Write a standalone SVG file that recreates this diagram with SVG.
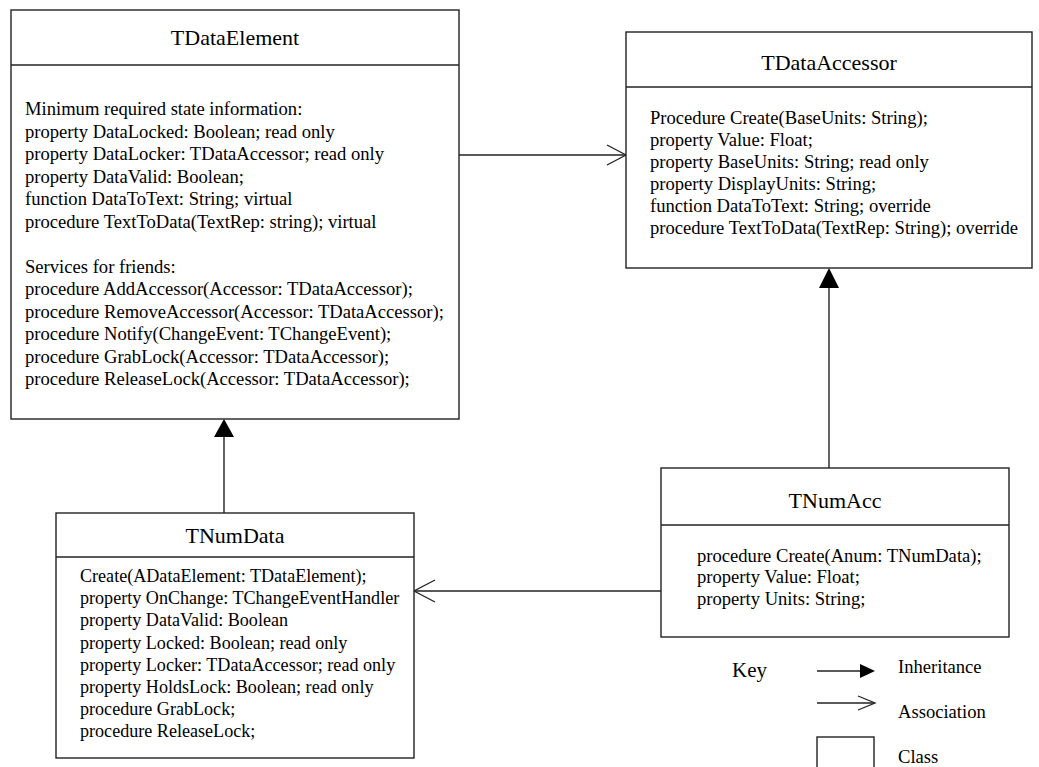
<svg xmlns="http://www.w3.org/2000/svg" width="1039" height="767" viewBox="0 0 1039 767">
<style>
  .box { fill: #ffffff; stroke: #222222; stroke-width: 1.4; }
  .div { stroke: #222222; stroke-width: 1.4; }
  .title { font-family: "Liberation Serif", "Times New Roman", serif; font-size: 22px; fill: #000; text-anchor: middle; }
  .body { font-family: "Liberation Serif", "Times New Roman", serif; font-size: 18.6px; fill: #000; }
  .small { font-size: 18.1px; }
  .conn { stroke: #222222; stroke-width: 1.4; fill: none; }
  .open { stroke: #222222; stroke-width: 1.3; fill: none; }
  .solid { fill: #000000; stroke: none; }
</style>
<rect width="1039" height="767" fill="#ffffff"/>

<g id="connectors">
  <!-- association TDataElement -> TDataAccessor -->
  <line class="conn" x1="459" y1="155" x2="626" y2="155"/>
  <polyline class="open" points="607,145 626,155 607,165"/>
  <!-- inheritance TNumAcc -> TDataAccessor -->
  <line class="conn" x1="829" y1="468" x2="829" y2="286"/>
  <polygon class="solid" points="829,268 819,288 839,288"/>
  <!-- inheritance TNumData -> TDataElement -->
  <line class="conn" x1="224" y1="513" x2="224" y2="436"/>
  <polygon class="solid" points="224,419 214,437 234,437"/>
  <!-- association TNumAcc -> TNumData -->
  <line class="conn" x1="661" y1="591" x2="414" y2="591"/>
  <polyline class="open" points="435,580 414,591 435,602"/>
</g>

<g id="TDataElement">
  <rect class="box" x="11" y="10" width="448" height="409"/>
  <line class="div" x1="11" y1="65" x2="459" y2="65"/>
  <text class="title" x="235" y="45">TDataElement</text>
  <text class="body" x="25" y="115">Minimum required state information:</text>
  <text class="body" x="25" y="137.5">property DataLocked: Boolean; read only</text>
  <text class="body" x="25" y="160">property DataLocker: TDataAccessor; read only</text>
  <text class="body" x="25" y="182.5">property DataValid: Boolean;</text>
  <text class="body" x="25" y="205">function DataToText: String; virtual</text>
  <text class="body" x="25" y="227.5">procedure TextToData(TextRep: string); virtual</text>
  <text class="body" x="25" y="272.5">Services for friends:</text>
  <text class="body" x="25" y="295">procedure AddAccessor(Accessor: TDataAccessor);</text>
  <text class="body" x="25" y="317.5">procedure RemoveAccessor(Accessor: TDataAccessor);</text>
  <text class="body" x="25" y="340">procedure Notify(ChangeEvent: TChangeEvent);</text>
  <text class="body" x="25" y="362.5">procedure GrabLock(Accessor: TDataAccessor);</text>
  <text class="body" x="25" y="385">procedure ReleaseLock(Accessor: TDataAccessor);</text>
</g>

<g id="TDataAccessor">
  <rect class="box" x="626" y="32" width="406" height="236"/>
  <line class="div" x1="626" y1="87" x2="1032" y2="87"/>
  <text class="title" x="829" y="70">TDataAccessor</text>
  <text class="body" x="650" y="124">Procedure Create(BaseUnits: String);</text>
  <text class="body" x="650" y="146">property Value: Float;</text>
  <text class="body" x="650" y="168">property BaseUnits: String; read only</text>
  <text class="body" x="650" y="190">property DisplayUnits: String;</text>
  <text class="body" x="650" y="212">function DataToText: String; override</text>
  <text class="body" x="650" y="234">procedure TextToData(TextRep: String); override</text>
</g>

<g id="TNumData">
  <rect class="box" x="56" y="513" width="358" height="245"/>
  <line class="div" x1="56" y1="557" x2="414" y2="557"/>
  <text class="title" x="235" y="543">TNumData</text>
  <text class="body small" x="80" y="582">Create(ADataElement: TDataElement);</text>
  <text class="body small" x="80" y="604">property OnChange: TChangeEventHandler</text>
  <text class="body small" x="80" y="626">property DataValid: Boolean</text>
  <text class="body small" x="80" y="649">property Locked: Boolean; read only</text>
  <text class="body small" x="80" y="671">property Locker: TDataAccessor; read only</text>
  <text class="body small" x="80" y="693">property HoldsLock: Boolean; read only</text>
  <text class="body small" x="80" y="715">procedure GrabLock;</text>
  <text class="body small" x="80" y="737">procedure ReleaseLock;</text>
</g>

<g id="TNumAcc">
  <rect class="box" x="661" y="468" width="348" height="169"/>
  <line class="div" x1="661" y1="525" x2="1009" y2="525"/>
  <text class="title" x="835" y="508">TNumAcc</text>
  <text class="body" x="697" y="562">procedure Create(Anum: TNumData);</text>
  <text class="body" x="697" y="583">property Value: Float;</text>
  <text class="body" x="697" y="605">property Units: String;</text>
</g>

<g id="key">
  <text class="body" style="font-size:21px" x="732" y="677">Key</text>
  <line class="conn" x1="817" y1="671" x2="861" y2="671"/>
  <polygon class="solid" points="875,671 860,664 860,678"/>
  <text class="body" x="898" y="673">Inheritance</text>
  <line class="conn" x1="817" y1="703" x2="874" y2="703"/>
  <polyline class="open" points="858,696 875,703 858,710"/>
  <text class="body" x="898" y="718">Association</text>
  <rect class="box" x="817" y="737" width="57" height="50"/>
  <text class="body" x="898" y="763">Class</text>
</g>
</svg>
